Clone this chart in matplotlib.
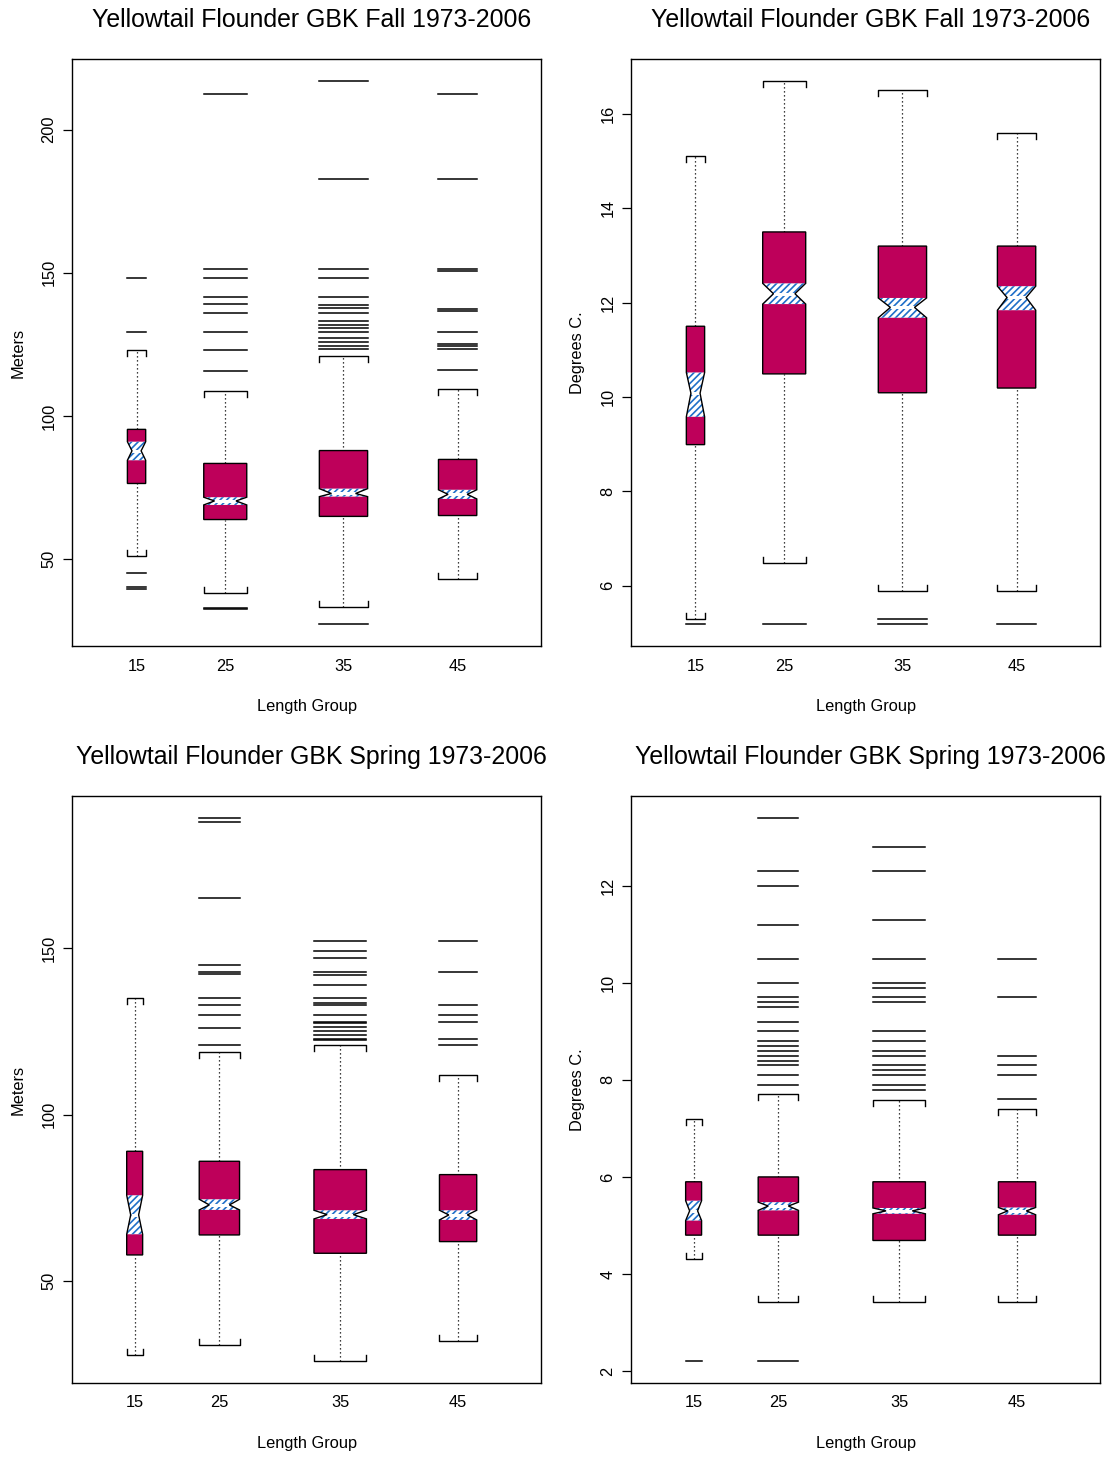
import matplotlib
matplotlib.use("Agg")
import matplotlib.pyplot as plt
from matplotlib.patches import Polygon

plt.rcParams['font.family'] = ['Liberation Sans', 'DejaVu Sans']
plt.rcParams['hatch.linewidth'] = 1.2

groups = ["15", "25", "35", "45"]

# mean length of each group (x position) and relative box widths (~sqrt n)
fall_pos = [15.48, 23.05, 33.14, 42.88]
fall_width = [1.56, 3.67, 4.12, 3.27]
spring_pos = [15.32, 22.55, 32.86, 42.92]
spring_width = [1.36, 3.44, 4.48, 3.18]

# --- fall, depth (m)
fd_lo = [51.0, 38.2, 33.1, 43.0]
fd_q1 = [76.4, 63.8, 64.9, 65.2]
fd_med = [87.8, 70.3, 72.9, 72.6]
fd_q3 = [95.3, 83.4, 87.9, 84.8]
fd_hi = [123.2, 108.7, 121.0, 109.3]
fd_nlo = [84.5, 68.9, 71.8, 71.0]
fd_nhi = [91.0, 71.6, 74.6, 74.2]
fd_out = [
    [148.1, 129.2, 45.2, 40.3, 39.6],
    [212.6, 151.2, 148.1, 141.6, 139.2, 136.1, 129.2, 123.2, 115.6, 33.0, 32.4],
    [217.0, 182.7, 151.2, 148.1, 141.6, 138.8, 137.7, 136.1, 133.1, 131.8,
     130.6, 129.3, 127.2, 126.0, 124.4, 123.5, 27.2],
    [212.6, 182.7, 151.2, 150.5, 137.3, 136.5, 129.2, 125.3, 124.3, 123.4, 115.9],
]

# --- fall, bottom temperature
ft_lo = [5.29, 6.49, 5.89, 5.89]
ft_q1 = [8.99, 10.49, 10.09, 10.19]
ft_med = [10.08, 12.19, 11.90, 12.11]
ft_q3 = [11.50, 13.50, 13.20, 13.20]
ft_hi = [15.11, 16.70, 16.51, 15.60]
ft_nlo = [9.58, 11.97, 11.68, 11.84]
ft_nhi = [10.52, 12.41, 12.10, 12.35]
ft_out = [[5.18], [5.18], [5.29, 5.18], [5.18]]

# --- spring, depth (m)
sd_lo = [28.0, 31.0, 26.0, 32.1]
sd_q1 = [57.9, 63.9, 58.4, 61.9]
sd_med = [69.9, 72.9, 70.0, 69.9]
sd_q3 = [89.0, 86.0, 83.5, 82.0]
sd_hi = [134.9, 118.8, 120.9, 112.0]
sd_nlo = [64.1, 71.4, 68.7, 68.4]
sd_nhi = [75.8, 74.6, 71.3, 71.3]
sd_out = [
    [],
    [189.0, 187.9, 165.0, 145.0, 142.9, 142.1, 135.0, 133.0, 129.9, 126.0, 120.9],
    [152.0, 149.0, 146.9, 142.9, 141.9, 138.9, 135.0, 133.4, 133.0, 129.9,
     127.9, 127.4, 126.2, 125.2, 123.9, 122.6, 122.4],
    [152.0, 142.9, 133.0, 129.9, 127.9, 122.6, 120.9],
]

# --- spring, bottom temperature
st_lo = [4.30, 3.42, 3.42, 3.42]
st_q1 = [4.80, 4.80, 4.69, 4.80]
st_med = [5.30, 5.40, 5.30, 5.30]
st_q3 = [5.90, 6.00, 5.90, 5.90]
st_hi = [7.20, 7.71, 7.59, 7.40]
st_nlo = [5.10, 5.31, 5.24, 5.22]
st_nhi = [5.51, 5.48, 5.36, 5.37]
st_out = [
    [2.2],
    [13.4, 12.3, 12.0, 11.2, 10.5, 10.0, 9.7, 9.6, 9.5, 9.2, 9.0, 8.8, 8.7,
     8.6, 8.5, 8.4, 8.3, 8.1, 7.9, 2.2],
    [12.8, 12.3, 11.3, 10.5, 10.0, 9.9, 9.7, 9.6, 9.0, 8.8, 8.6, 8.5, 8.3,
     8.2, 8.1, 7.9, 7.8],
    [10.5, 9.7, 8.5, 8.3, 8.1, 7.6],
]

BOX = '#be005a'
HATCH = '#1f6fc8'


def draw_panel(ax, pos, width, lo, q1, med, q3, hi, nlo, nhi, outs,
               title, ylabel, yticks):
    allv = lo + hi + [v for o in outs for v in o]
    ymin, ymax = min(allv), max(allv)
    pad = 0.04 * (ymax - ymin)
    ax.set_ylim(ymin - pad, ymax + pad)
    ax.set_xlim(10, 50)
    tick = 0.0102 * (ymax - ymin + 2 * pad)

    for i in range(len(pos)):
        x, w = pos[i], width[i]
        l, r = x - w / 2, x + w / 2
        li, ri = x - w / 4, x + w / 4
        outline = [(l, q1[i]), (l, nlo[i]), (li, med[i]), (l, nhi[i]), (l, q3[i]),
                   (r, q3[i]), (r, nhi[i]), (ri, med[i]), (r, nlo[i]), (r, q1[i])]
        ax.add_patch(Polygon(outline, closed=True, facecolor=BOX, edgecolor='none', zorder=2))
        notch = [(l, nlo[i]), (li, med[i]), (l, nhi[i]), (r, nhi[i]), (ri, med[i]), (r, nlo[i])]
        ax.add_patch(Polygon(notch, closed=True, facecolor='white', edgecolor=HATCH,
                             lw=0, hatch='/////', zorder=3))
        ax.plot([li, ri], [med[i], med[i]], color='white', lw=2.2, zorder=4,
                solid_capstyle='butt')
        ax.add_patch(Polygon(outline, closed=True, facecolor='none', edgecolor='black',
                             lw=1.0, zorder=5))
        # whiskers
        ax.plot([x, x], [q3[i], hi[i]], color='black', lw=0.9, ls=(0, (1, 2.2)), zorder=1)
        ax.plot([x, x], [lo[i], q1[i]], color='black', lw=0.9, ls=(0, (1, 2.2)), zorder=1)
        ax.plot([l, l, r, r], [hi[i] - tick, hi[i], hi[i], hi[i] - tick], color='black', lw=1.0)
        ax.plot([l, l, r, r], [lo[i] + tick, lo[i], lo[i], lo[i] + tick], color='black', lw=1.0)
        for v in outs[i]:
            ax.plot([l, r], [v, v], color='black', lw=1.1)

    ax.set_xticks(pos)
    ax.set_xticklabels(groups)
    ax.set_yticks(yticks)
    ax.set_yticklabels([str(t) for t in yticks], rotation=90, va='center')
    ax.tick_params(axis='x', length=0, pad=9, labelsize=11.8)
    ax.tick_params(axis='y', length=6.5, width=0.9, pad=5, labelsize=11.8)
    for s in ax.spines.values():
        s.set_linewidth(1.0)
    ax.text(0.51, 1.047, title, transform=ax.transAxes, ha='center', va='bottom',
            fontsize=17.9)
    ax.set_xlabel("Length Group", fontsize=11.8)
    ax.xaxis.set_label_coords(0.5, -0.09)
    ax.set_ylabel(ylabel, fontsize=11.8)
    ax.yaxis.set_label_coords(-0.099, 0.5)


fig = plt.figure(figsize=(11.11, 14.57), dpi=100)
w, h = 0.4219, 0.4027
ax1 = fig.add_axes([0.0651, 0.5566, w, h])
ax2 = fig.add_axes([0.5682, 0.5566, w, h])
ax3 = fig.add_axes([0.0651, 0.0508, w, h])
ax4 = fig.add_axes([0.5682, 0.0508, w, h])

draw_panel(ax1, fall_pos, fall_width, fd_lo, fd_q1, fd_med, fd_q3, fd_hi, fd_nlo, fd_nhi,
           fd_out, "Yellowtail Flounder GBK Fall 1973-2006", "Meters", [50, 100, 150, 200])
draw_panel(ax2, fall_pos, fall_width, ft_lo, ft_q1, ft_med, ft_q3, ft_hi, ft_nlo, ft_nhi,
           ft_out, "Yellowtail Flounder GBK Fall 1973-2006", "Degrees C.", [6, 8, 10, 12, 14, 16])
draw_panel(ax3, spring_pos, spring_width, sd_lo, sd_q1, sd_med, sd_q3, sd_hi, sd_nlo, sd_nhi,
           sd_out, "Yellowtail Flounder GBK Spring 1973-2006", "Meters", [50, 100, 150])
draw_panel(ax4, spring_pos, spring_width, st_lo, st_q1, st_med, st_q3, st_hi, st_nlo, st_nhi,
           st_out, "Yellowtail Flounder GBK Spring 1973-2006", "Degrees C.", [2, 4, 6, 8, 10, 12])

fig.savefig("out.png", dpi=100)
